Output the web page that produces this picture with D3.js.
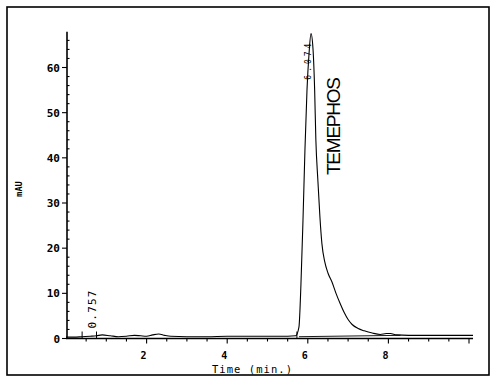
<!DOCTYPE html>
<html><head><meta charset="utf-8">
<script src="https://cdn.jsdelivr.net/npm/d3@7"></script>
<style>body{margin:0;background:#fff}svg{display:block}</style>
</head><body>
<script>
// ---- data ----
const times = [0.0,0.2,0.4,0.6,0.757,0.9,1.1,1.3,1.5,1.7,1.85,2.0,2.15,2.3,2.45,2.6,3.0,3.5,4.0,4.5,5.0,5.5,5.7,5.78,5.83,5.88,5.93,5.98,6.03,6.08,6.13,6.17,6.2,6.25,6.3,6.35,6.42,6.5,6.6,6.7,6.8,6.9,7.0,7.1,7.25,7.4,7.6,7.8,7.95,8.05,8.2,8.5,9.0,9.5,10.1];
const mAU   = [0.3,0.3,0.4,0.5,0.6,0.8,0.6,0.4,0.5,0.7,0.6,0.5,0.8,1.0,0.7,0.5,0.4,0.4,0.5,0.5,0.5,0.5,0.6,2.5,12,26,42,55,63,67.5,64,55,44,35,27,21,17,14.5,12.5,10,7.8,5.8,4.2,3.1,2.2,1.7,1.2,0.9,1.1,1.1,0.8,0.7,0.7,0.7,0.7];
const baselineT = [5.78,8.3];
const baselineV = [0.4,0.7];
const yTicks = [0,10,20,30,40,50,60];
const xTicks = [2,4,6,8];
const peakLabels = [{t:0.757,v:0.6,label:"0.757"},{t:6.08,v:67.5,label:"6.074"}];
const compound = "TEMEPHOS";

const W=500,H=384;
const svg=d3.select("body").append("svg").attr("width",W).attr("height",H);
const x=d3.scaleLinear().domain([0,10]).range([66,469]);
const y=d3.scaleLinear().domain([0,60]).range([338.5,67.5]);

// frame
svg.append("rect").attr("x",7).attr("y",7).attr("width",482).attr("height",368)
  .attr("fill","none").attr("stroke","#000").attr("stroke-width",1.6);

// y axis
const g=svg.append("g");
g.append("line").attr("x1",x(0)+1).attr("x2",x(0)+1).attr("y1",y(67.9)).attr("y2",y(0))
 .attr("stroke","#000").attr("stroke-width",1.6);
d3.range(0,68,2).forEach(v=>{
  const major=v%10===0;
  g.append("line").attr("x1",x(0)+1-(major?5:0)).attr("x2",x(0)+1+(major?0:2.5))
   .attr("y1",y(v)).attr("y2",y(v)).attr("stroke","#000").attr("stroke-width",1.1);
});
g.selectAll("text.yt").data(yTicks).join("text").attr("class","yt")
 .attr("x",x(0)-6).attr("y",d=>y(d)+4).attr("text-anchor","end")
 .attr("font-family","DejaVu Sans Mono").attr("font-weight","bold").attr("font-size",11)
 .text(d=>d);

// x axis
g.append("line").attr("x1",x(0)).attr("x2",x(10.1)).attr("y1",y(0)).attr("y2",y(0))
 .attr("stroke","#000").attr("stroke-width",1.4);
d3.range(0.5,10.1,0.5).forEach(t=>{
  const major=Math.abs(t%2)<1e-9;
  g.append("line").attr("x1",x(t)).attr("x2",x(t)).attr("y1",y(0)).attr("y2",y(0)+(major?5:3))
   .attr("stroke","#000").attr("stroke-width",1.1);
});
g.selectAll("text.xt").data(xTicks).join("text").attr("class","xt")
 .attr("x",d=>x(d)-3).attr("y",358.5).attr("text-anchor","middle")
 .attr("font-family","DejaVu Sans Mono").attr("font-weight","bold").attr("font-size",10)
 .text(d=>d);

// axis titles
svg.append("text").attr("x",252).attr("y",372.5).attr("text-anchor","middle")
 .attr("font-family","DejaVu Sans Mono").attr("font-size",10.5).attr("textLength",80)
 .text("Time (min.)");
svg.append("text").attr("transform","translate(22,189) rotate(-90)").attr("text-anchor","middle")
 .attr("font-family","DejaVu Sans Mono").attr("font-weight","bold").attr("font-size",8.5)
 .text("mAU");

// trace
const pts=times.map((t,i)=>[t,mAU[i]]);
svg.append("path").datum(pts)
 .attr("d",d3.line().x(d=>x(d[0])).y(d=>y(d[1])).curve(d3.curveMonotoneX))
 .attr("fill","none").attr("stroke","#000").attr("stroke-width",1.1);

// integration baseline
svg.append("line").attr("x1",x(baselineT[0])).attr("x2",x(baselineT[1]))
 .attr("y1",y(baselineV[0])).attr("y2",y(baselineV[1]))
 .attr("stroke","#000").attr("stroke-width",0.9);

// start/marker ticks
[0.4,0.757,5.73].forEach(t=>{
  svg.append("line").attr("x1",x(t)).attr("x2",x(t)).attr("y1",y(0)).attr("y2",y(0)-7)
   .attr("stroke","#000").attr("stroke-width",1);
});

// peak labels
svg.append("text").attr("transform",`translate(${x(peakLabels[0].t)-1},${y(0)-10}) rotate(-90)`)
 .attr("font-family","DejaVu Sans Mono").attr("font-size",11).attr("textLength",38)
 .text(peakLabels[0].label);
svg.append("text").attr("transform",`translate(${x(peakLabels[1].t)},${y(peakLabels[1].v)+46}) rotate(-90)`)
 .attr("font-family","DejaVu Sans Mono").attr("font-size",8).attr("textLength",36)
 .text(peakLabels[1].label);

// compound name
svg.append("text").attr("transform","translate(340,175) rotate(-90)")
 .attr("font-family","Liberation Sans").attr("font-size",19).attr("textLength",98)
 .text(compound);
</script>
</body></html>
